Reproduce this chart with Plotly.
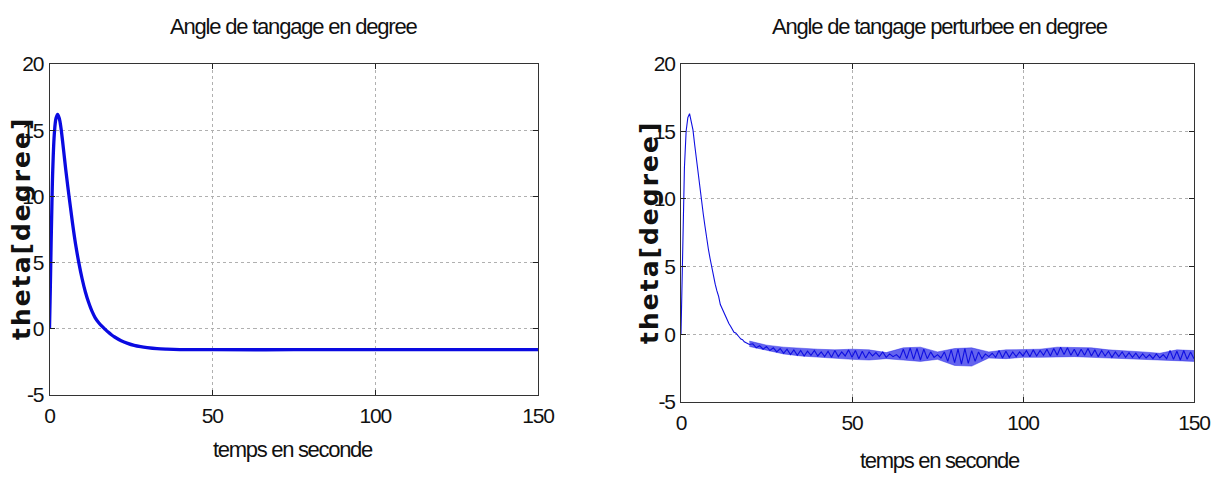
import plotly.graph_objects as go

# ---------------- data ----------------
t_left = [0, 0.25, 0.5, 0.75, 1, 1.5, 2, 2.5, 3, 3.5, 4, 4.5, 5, 6, 7, 8, 9, 10,
          11, 12, 13, 14, 15, 16, 17, 18, 19, 20, 22, 24, 26, 28, 30, 33, 36, 40,
          50, 75, 100, 125, 150]
theta_left = [0, 3.0, 6.5, 9.5, 12.0, 14.8, 15.9, 16.2, 15.9, 15.2, 14.2, 13.1, 12.0,
              10.0, 8.1, 6.4, 5.0, 3.8, 2.8, 2.0, 1.35, 0.85, 0.5, 0.22, -0.02, -0.25,
              -0.45, -0.62, -0.9, -1.1, -1.25, -1.35, -1.42, -1.5, -1.54, -1.57,
              -1.58, -1.58, -1.58, -1.58, -1.58]

t_right_transient = [0, 0.25, 0.5, 0.75, 1, 1.5, 2, 2.5, 3, 3.5, 4, 4.5, 5, 5.5, 6,
                     6.5, 7, 7.5, 8, 8.5, 9, 9.5, 10, 10.5, 11, 11.5, 12, 12.5, 13,
                     13.5, 14, 14.5, 15, 15.5, 16, 16.5, 17, 17.5, 18, 18.5, 19,
                     19.5, 20]
theta_right_transient = [0, 3.2, 6.8, 10.0, 12.3, 15.0, 16.0, 16.3, 15.8, 15.1,
                         14.0, 12.9, 11.8, 10.9, 9.8, 8.9, 8.0, 7.0, 6.3, 5.6, 4.9,
                         4.3, 3.7, 3.2, 2.8, 2.2, 1.9, 1.6, 1.3, 1.1, 0.8, 0.6, 0.4,
                         0.15, 0.1, -0.1, -0.2, -0.35, -0.4, -0.55, -0.6, -0.7, -0.75]
# noisy steady part, one reading per second from t = 21 s to t = 150 s
theta_right_noise = [
    -0.7, -1.0, -0.85, -1.1, -0.9, -1.2, -1.0, -1.3, -1.05, -1.4,      # 21-30
    -1.1, -1.5, -1.15, -1.55, -1.2, -1.6, -1.25, -1.55, -1.2, -1.6,    # 31-40
    -1.3, -1.65, -1.25, -1.7, -1.2, -1.65, -1.3, -1.6, -1.15, -1.7,    # 41-50
    -1.2, -1.8, -1.25, -1.75, -1.3, -1.6, -1.35, -1.65, -1.3, -1.7,    # 51-60
    -1.45, -1.65, -1.5, -1.75, -1.1, -1.8, -1.0, -1.85, -1.05, -1.9,   # 61-70
    -1.1, -1.8, -1.3, -1.7, -1.5, -1.75, -1.3, -2.0, -1.15, -2.1,      # 71-80
    -1.1, -2.2, -1.05, -2.15, -1.2, -2.0, -1.3, -1.8, -1.45, -1.65,    # 81-90
    -1.4, -1.7, -1.2, -1.75, -1.25, -1.7, -1.3, -1.65, -1.3, -1.6,     # 91-100
    -1.2, -1.65, -1.15, -1.6, -1.2, -1.55, -1.1, -1.6, -1.05, -1.55,   # 101-110
    -0.95, -1.5, -1.0, -1.55, -1.1, -1.6, -1.1, -1.55, -1.05, -1.6,    # 111-120
    -1.15, -1.65, -1.2, -1.6, -1.25, -1.7, -1.3, -1.65, -1.3, -1.7,    # 121-130
    -1.35, -1.7, -1.4, -1.75, -1.45, -1.75, -1.5, -1.8, -1.45, -1.75,  # 131-140
    -1.5, -1.8, -1.2, -1.85, -1.25, -1.9, -1.2, -1.85, -1.3, -1.8,     # 141-150
]
t_right = t_right_transient + list(range(21, 151))
theta_right = theta_right_transient + theta_right_noise

# envelope of the noise band (read every 5 s)
t_env = [20, 25, 30, 35, 40, 45, 50, 55, 60, 65, 70, 75, 80, 85, 90, 95, 100,
         105, 110, 115, 120, 125, 130, 135, 140, 145, 150]
env_upper = [-0.5, -0.8, -0.95, -1.05, -1.1, -1.15, -1.1, -1.15, -1.35, -1.0,
             -0.95, -1.3, -1.05, -1.0, -1.3, -1.15, -1.15, -1.1, -0.95, -1.0,
             -1.0, -1.15, -1.2, -1.3, -1.4, -1.15, -1.2]
env_lower = [-0.9, -1.15, -1.45, -1.6, -1.7, -1.75, -1.85, -1.9, -1.8, -1.9,
             -2.0, -1.85, -2.3, -2.35, -1.75, -1.8, -1.7, -1.7, -1.65, -1.65,
             -1.7, -1.75, -1.8, -1.85, -1.9, -2.0, -2.0]

x_ticks = [0, 50, 100, 150]
y_ticks = [-5, 0, 5, 10, 15, 20]

title_left = "Angle de tangage en degree"
title_right = "Angle de tangage perturbee en degree"
x_label = "temps en seconde"
y_label = "theta[degree]"

# ---------------- figure ----------------
SANS = "Liberation Sans, Arial, sans-serif"
BOLD = "DejaVu Sans, Arial, sans-serif"
OFF = 8                      # default body margin of the page
W, H = 1221 - OFF, 480 - OFF
BLUE = "rgb(15,15,225)"


def tight(text, spacing):
    return '<span style="letter-spacing:%spx">%s</span>' % (spacing, text)


fig = go.Figure()
fig.add_trace(go.Scatter(x=t_left, y=theta_left, mode="lines", xaxis="x", yaxis="y",
                         line=dict(color="rgb(10,10,225)", width=3.3, shape="spline"),
                         showlegend=False, hoverinfo="skip"))
fig.add_trace(go.Scatter(x=t_env, y=env_upper, mode="lines", xaxis="x2", yaxis="y2",
                         line=dict(color="rgba(30,30,230,0.7)", width=0.6),
                         showlegend=False, hoverinfo="skip"))
fig.add_trace(go.Scatter(x=t_env, y=env_lower, mode="lines", xaxis="x2", yaxis="y2",
                         line=dict(color="rgba(30,30,230,0.7)", width=0.6),
                         fill="tonexty", fillcolor="rgba(40,40,232,0.72)",
                         showlegend=False, hoverinfo="skip"))
fig.add_trace(go.Scatter(x=t_right, y=theta_right, mode="lines", xaxis="x2", yaxis="y2",
                         line=dict(color=BLUE, width=1.1),
                         showlegend=False))


def px(x):
    return (x - OFF) / W


def py(y):
    return 1 - (y - OFF) / H


common_x = dict(range=[0, 150], tickvals=x_ticks,
                ticktext=[tight(str(v), -1.2) for v in x_ticks],
                ticks="inside", ticklen=5,
                tickcolor="#222", showline=True, linecolor="#333", linewidth=1,
                mirror="allticks", showgrid=True, gridcolor="#b0b0b0", griddash="dot",
                gridwidth=1, zeroline=False, automargin=False,
                tickfont=dict(family=SANS, size=21, color="#111"),
                ticklabelstandoff=2, fixedrange=True)
common_y = dict(range=[-5, 20], tickvals=y_ticks,
                ticktext=[tight(str(v), -1.2) for v in y_ticks],
                ticks="inside", ticklen=5,
                tickcolor="#222", showline=True, linecolor="#333", linewidth=1,
                mirror="allticks", showgrid=True, gridcolor="#b0b0b0", griddash="dot",
                gridwidth=1, zeroline=False, automargin=False,
                tickfont=dict(family=SANS, size=21, color="#111"),
                ticklabelstandoff=1, fixedrange=True)


def ann(text, x, y, size, family=SANS, angle=0, weight="normal", spacing=None):
    if spacing is not None:
        text = tight(text, spacing)
    return dict(text=text, x=px(x), y=py(y), xref="paper", yref="paper",
                xanchor="center", yanchor="middle", showarrow=False, textangle=angle,
                font=dict(family=family, size=size, color="#111", weight=weight))


fig.update_layout(
    width=W, height=H,
    margin=dict(l=0, r=0, t=0, b=0, autoexpand=False),
    paper_bgcolor="white", plot_bgcolor="white",
    xaxis=dict(common_x, domain=[px(49.5), px(538)], anchor="y"),
    yaxis=dict(common_y, domain=[py(395), py(64)], anchor="x"),
    xaxis2=dict(common_x, domain=[px(681), px(1194)], anchor="y2"),
    yaxis2=dict(common_y, domain=[py(402), py(63.5)], anchor="x2"),
    annotations=[
        ann(title_left, 293, 26, 22, spacing=-1.2),
        ann(title_right, 940, 26, 22, spacing=-1.2),
        ann(x_label, 293, 449, 22, spacing=-1.3),
        ann(x_label, 940, 460, 22, spacing=-1.3),
        ann(y_label, 21, 229, 25, family=BOLD, angle=-90, weight="bold", spacing=2),
        ann(y_label, 650, 233, 25, family=BOLD, angle=-90, weight="bold", spacing=2),
    ],
)

fig.write_html("out.html")
